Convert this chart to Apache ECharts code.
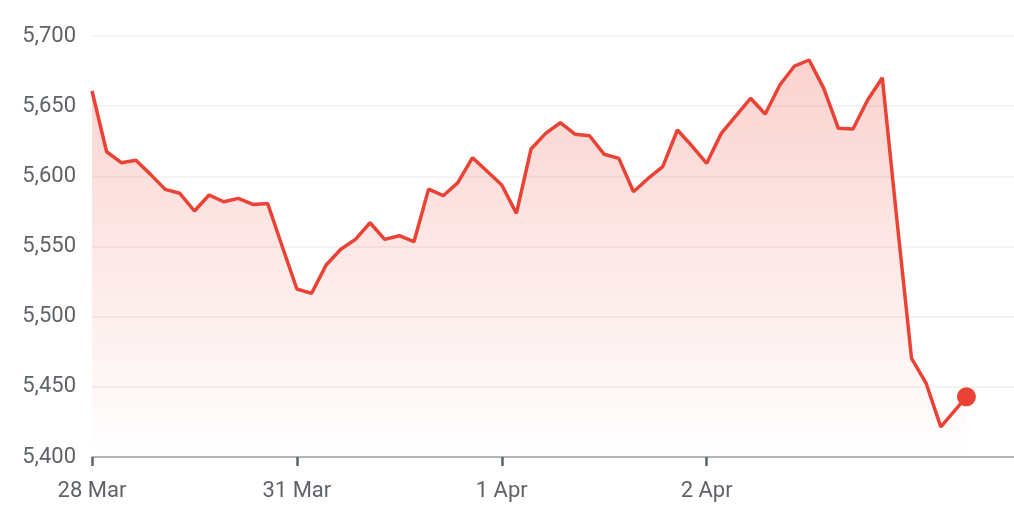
<!DOCTYPE html>
<html>
<head>
<meta charset="utf-8">
<script src="https://cdn.jsdelivr.net/npm/echarts@6/dist/echarts.min.js"></script>
<style>
html,body{margin:0;padding:0;background:#fff;}
#c{width:1014px;height:511px;}
</style>
</head>
<body>
<div id="c"></div>
<script>
// Trading-time step index (14 half-hour steps per session) and index values
var steps = [0,1,2,3,4,5,6,7,8,9,10,11,12,13,14,15,16,17,18,19,20,21,22,23,24,25,26,27,28,29,30,31,32,33,34,35,36,37,38,39,40,41,42,43,44,45,46,47,48,49,50,51,52,53,54,55,56,57,58,59.75];
var values = [5660.8,5617.5,5609.7,5611.4,5601.4,5590.7,5587.9,5575.3,5586.7,5581.9,5584.3,5580.0,5580.7,5550.0,
  5519.7,5516.6,5536.8,5548.0,5555.1,5566.9,5555.1,5557.7,5553.4,5590.9,5586.2,5595.5,5613.3,5603.6,
  5593.8,5573.6,5619.5,5630.6,5638.2,5630.0,5628.9,5615.7,5612.8,5589.0,5598.5,5606.9,5633.0,5621.6,
  5609.3,5630.6,5643.0,5655.6,5644.4,5665.1,5678.6,5682.9,5662.7,5634.2,5633.7,5654.4,5670.3,5569.0,
  5470.3,5452.4,5421.5,5442.9];
var tickSteps = [0,14,28,42];
var tickLabels = ['28 Mar','31 Mar','1 Apr','2 Apr'];
var yMin = 5400, yMax = 5700, yStep = 50;

var RED = '#ea4335';
var pts = steps.map(function(s,i){return [s, values[i]];});
var last = pts[pts.length-1];

var chart = echarts.init(document.getElementById('c'), null, {renderer:'canvas'});
chart.setOption({
  animation:false,
  grid:{left:92, right:0, top:36, bottom:54, containLabel:false},
  xAxis:{
    type:'value', min:0, max:63,
    axisLine:{show:true, lineStyle:{color:'#9aa0a6', width:1.5}},
    axisTick:{show:true, customValues:tickSteps, length:9, lineStyle:{color:'#5f6368', width:2.5}},
    axisLabel:{show:true, customValues:tickSteps, margin:23, fontFamily:'Roboto', fontSize:22, color:'#5f6368',
      formatter:function(v){var i=tickSteps.indexOf(v);return i>=0?tickLabels[i]:'';}},
    splitLine:{show:false}
  },
  yAxis:{
    type:'value', min:yMin, max:yMax, interval:yStep,
    axisLine:{show:false}, axisTick:{show:false},
    axisLabel:{margin:16, fontFamily:'Roboto', fontSize:22, color:'#5f6368',
      formatter:function(v){return String(v).replace(/\B(?=(\d{3})+(?!\d))/g, ',');}},
    splitLine:{show:true, lineStyle:{color:'#f1f1f1', width:1.5}}
  },
  series:[
    {
      type:'line', data:pts, showSymbol:false, symbol:'none',
      lineStyle:{color:RED, width:3.5},
      areaStyle:{color:new echarts.graphic.LinearGradient(0,0,0,1,[
        {offset:0, color:'rgba(234,67,53,0.34)'},
        {offset:1, color:'rgba(234,67,53,0)'}
      ])},
      z:2
    },
    {
      type:'scatter', data:[last], symbol:'circle', symbolSize:19,
      itemStyle:{color:RED, opacity:1}, z:3
    }
  ]
});
</script>
</body>
</html>
